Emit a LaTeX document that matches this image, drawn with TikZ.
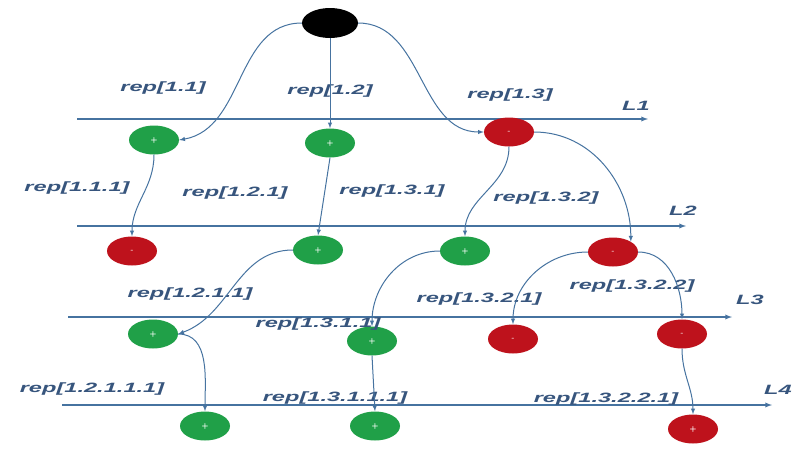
\documentclass[tikz,border=0pt]{standalone}
\usepackage{fontspec}
\newfontfamily\repfont[FakeStretch=1.75]{Liberation Sans}
\usetikzlibrary{shapes.geometric}
\definecolor{linecol}{RGB}{70,115,160}
\definecolor{textcol}{RGB}{55,85,125}
\definecolor{plusgreen}{RGB}{32,160,72}
\definecolor{minusred}{RGB}{190,18,28}
\tikzstyle{rep}=[text=textcol, font=\repfont\fontsize{13.5}{15}\selectfont\bfseries\itshape, inner sep=0pt]
\tikzstyle{state}=[ellipse, minimum width=50pt, minimum height=29pt, inner sep=0pt, text=white, font=\sffamily\bfseries\fontsize{8}{8}\selectfont]
\tikzstyle{plusstate}=[state, fill=plusgreen]
\tikzstyle{minusstate}=[state, fill=minusred]
\tikzstyle{level}=[draw=linecol, line width=1.3pt, ->, >=latex]
\tikzstyle{edge}=[draw=linecol, line width=1pt, ->, >=latex]

\begin{document}
\begin{tikzpicture}[x=1pt, y=-1pt]
\useasboundingbox (0,0) rectangle (795,448);
% Levels
    \draw[level] (77,119) -- (648,119);
    \draw[level] (77,226) -- (686,226);
    \draw[level] (68,317) -- (732,317);
    \draw[level] (62,405) -- (772,405);
    \node[rep] (l1) at (636,106) {L1};
    \node[rep] (l2) at (683,211) {L2};
    \node[rep] (l3) at (750,300) {L3};
    \node[rep] (l4) at (778,390) {L4};
% States
    \node[state, fill=black, minimum width=56pt, minimum height=30pt] (r) at (330,23) {};
    \node[plusstate] (s11) at (154,140) {+};
    \node[plusstate] (s12) at (330,143) {+};
    \node[minusstate] (s13) at (509,132) {-};
    \node[minusstate] (s111) at (132,251) {-};
    \node[plusstate] (s121) at (318,250) {+};
    \node[plusstate] (s131) at (465,251) {+};
    \node[minusstate] (s132) at (613,252) {-};
    \node[plusstate] (s1211) at (153,334) {+};
    \node[plusstate] (s1311) at (372,341) {+};
    \node[minusstate] (s1321) at (513,339) {-};
    \node[minusstate] (s1322) at (682,334) {-};
    \node[plusstate] (s12111) at (205,426) {+};
    \node[plusstate] (s13111) at (375,426) {+};
    \node[minusstate] (s13221) at (693,429) {+};
% Labels
    \node[rep] (t11) at (163,88) {rep[1.1]};
    \node[rep] (t12) at (330,91) {rep[1.2]};
    \node[rep] (t13) at (510,95) {rep[1.3]};
    \node[rep] (t111) at (77,188) {rep[1.1.1]};
    \node[rep] (t121) at (235,193) {rep[1.2.1]};
    \node[rep] (t131) at (392,191) {rep[1.3.1]};
    \node[rep] (t132) at (546,198) {rep[1.3.2]};
    \node[rep] (t1211) at (190,294) {rep[1.2.1.1]};
    \node[rep] (t1311) at (318,324) {rep[1.3.1.1]};
    \node[rep] (t1321) at (479,299) {rep[1.3.2.1]};
    \node[rep] (t1322) at (632,286) {rep[1.3.2.2]};
    \node[rep] (t12111) at (92,389) {rep[1.2.1.1.1]};
    \node[rep] (t13111) at (335,398) {rep[1.3.1.1.1]};
    \node[rep] (t13221) at (606,399) {rep[1.3.2.2.1]};
% Transitions
    \draw[edge] (r.west) to[out=180, in=10] (s11.east);
    \draw[edge] (r.south) -- (s12.north);
    \draw[edge] (r.east) to[out=0, in=180] (s13.west);
    \draw[edge] (s11.south) to[out=-90, in=90] (s111.north);
    \draw[edge] (s12.south) -- (s121.north);
    \draw[edge] (s13.south) to[out=-90, in=90] (s131.north);
    \draw[edge] (s13.east) to[out=0, in=90] (s132.north east);
    \draw[edge] (s121.west) to[out=180, in=20] (s1211.east);
    \draw[edge] (s131.west) to[out=180, in=90] (s1311.north);
    \draw[edge] (s132.west) to[out=180, in=90] (s1321.north);
    \draw[edge] (s132.east) to[out=0, in=90] (s1322.north);
    \draw[edge] (s1211.east) to[out=0, in=90] (s12111.north);
    \draw[edge] (s1311.south) -- (s13111.north);
    \draw[edge] (s1322.south) to[out=-90, in=90] (s13221.north);
\end{tikzpicture}
\end{document}
